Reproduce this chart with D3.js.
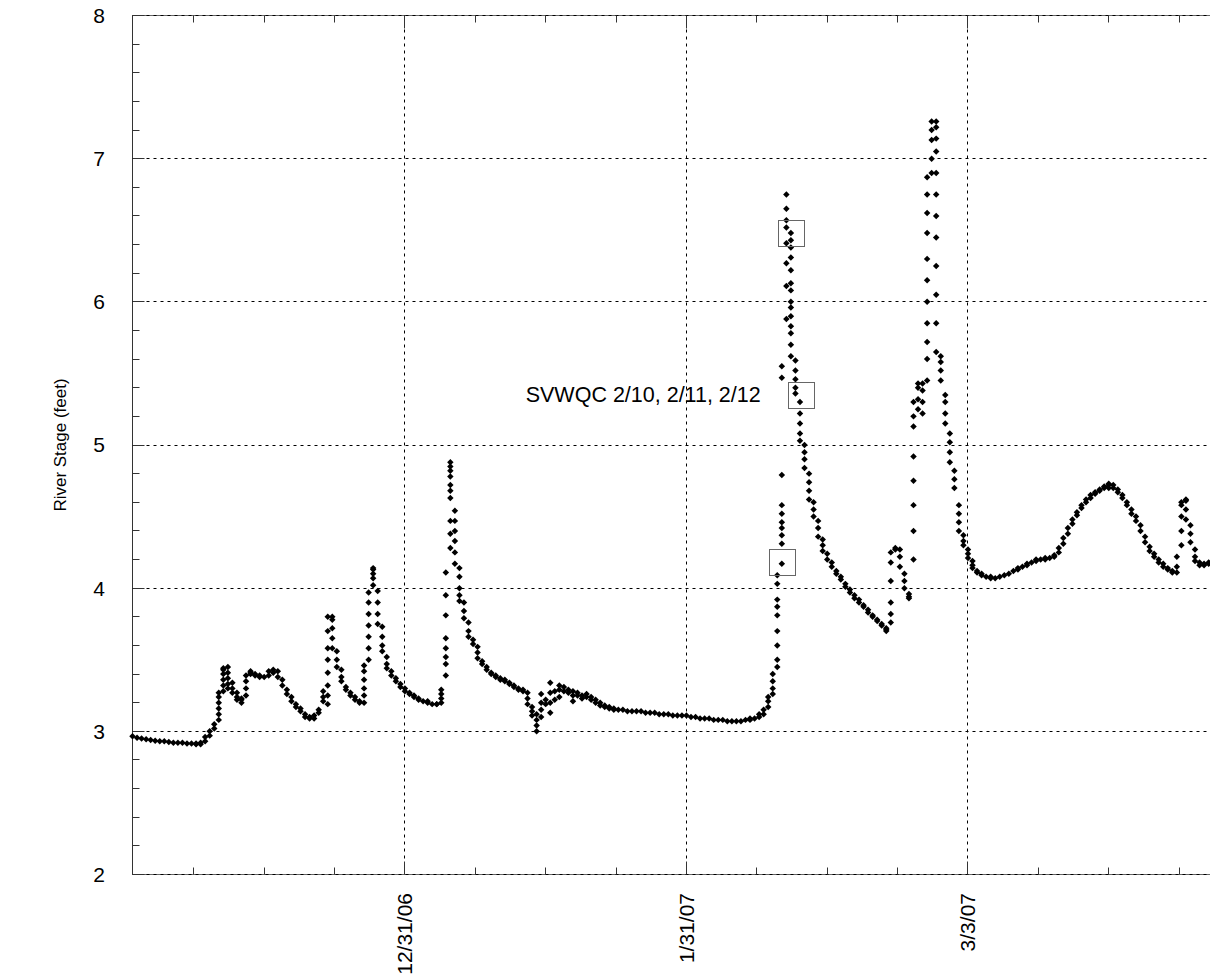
<!DOCTYPE html>
<html>
<head>
<meta charset="utf-8">
<script src="https://cdn.jsdelivr.net/npm/d3@7"></script>
<style>
  html, body { margin: 0; padding: 0; background: #fff; }
  svg { display: block; font-family: "Liberation Sans", Arial, sans-serif; }
</style>
</head>
<body>
<svg id="chart" width="1210" height="980"></svg>
<script>
// River stage readings, one slot every 12 hours starting 12/1/06 00:00.
// Each slot holds the readings that fall into it (stacked at one x).
var seriesStart = Date.UTC(2006, 11, 1);
var slotHours = 12;
var stageSlots = [
  [2.965],[2.955],[2.95],[2.945],[2.94],[2.935],[2.93],[2.93],[2.925],[2.92],
  [2.92],[2.92],[2.915],[2.915],[2.91,2.915],[2.91,2.92],[2.93,2.96],[2.97,3.0],[3.02,3.05],[3.08,3.12,3.16,3.2,3.24,3.27],
  [3.28,3.32,3.36,3.4,3.44,3.43],[3.45,3.41,3.37,3.33,3.3],[3.34,3.3,3.27],[3.27,3.24,3.22],[3.22,3.2,3.23],[3.25,3.3,3.35,3.39],[3.41,3.42,3.4],[3.4,3.39],[3.39,3.38],[3.38],
  [3.39,3.42],[3.43,3.41],[3.42,3.38],[3.36,3.32],[3.29,3.26],[3.24,3.21],[3.19,3.17],[3.16,3.14],[3.12,3.1],[3.1,3.09],
  [3.09,3.11],[3.13,3.15],[3.21,3.24,3.28],[3.19,3.25,3.32,3.41,3.5,3.58,3.7,3.8],[3.8,3.78,3.72,3.65,3.58],[3.56,3.5,3.45],[3.43,3.38,3.35],[3.31,3.29],[3.27,3.25],[3.24,3.22],
  [3.21,3.2],[3.2,3.25,3.3,3.36,3.42,3.46],[3.5,3.58,3.66,3.74,3.82,3.9,3.97],[4.02,4.07,4.1,4.13,4.14],[3.98,3.9,3.82,3.75],[3.73,3.66,3.6,3.56],[3.52,3.47,3.44],[3.42,3.39],[3.37,3.35],[3.33,3.31],
  [3.3,3.28],[3.27,3.26],[3.25,3.24],[3.23,3.22],[3.21],[3.21,3.2],[3.19],[3.19,3.19],[3.2,3.23,3.26,3.29],[3.39,3.47,3.52,3.58,3.65,3.81,3.95,4.11],
  [4.28,4.38,4.47,4.63,4.68,4.72,4.78,4.82,4.85,4.88],[4.54,4.47,4.4,4.33,4.25,4.17],[4.14,4.08,4.0,3.95,3.91],[3.9,3.84,3.79],[3.76,3.7,3.66],[3.64,3.61],[3.59,3.55,3.51],[3.49,3.47],[3.45,3.43],[3.41,3.4],
  [3.39,3.38],[3.37,3.36],[3.36,3.35],[3.34,3.33],[3.32,3.31],[3.3,3.29],[3.29,3.28],[3.27,3.23,3.19],[3.17,3.14,3.11],[3.12,3.08,3.04,3.0],
  [3.1,3.15,3.2,3.26],[3.19,3.22],[3.13,3.2,3.27,3.34],[3.22,3.28],[3.24,3.29,3.32],[3.28,3.31],[3.27,3.29],[3.21,3.25,3.28],[3.25,3.27],[3.23,3.25],
  [3.24,3.26],[3.22,3.24],[3.2,3.22],[3.18,3.2],[3.17,3.18],[3.16,3.17],[3.15,3.16],[3.15],[3.15],[3.14],
  [3.14],[3.14],[3.14],[3.13],[3.13],[3.13],[3.12],[3.12],[3.12],[3.11],
  [3.11],[3.11],[3.11],[3.1],[3.1],[3.09],[3.09],[3.09],[3.08],[3.08],
  [3.08],[3.07],[3.07],[3.07],[3.07],[3.08],[3.08,3.09],[3.09],[3.1,3.12],[3.12,3.15],
  [3.17,3.21,3.24],[3.26,3.3,3.35,3.4],[3.45,3.5,3.6,3.7,3.81,3.87,3.92,4.03,4.09],[4.17,4.31,4.37,4.42,4.46,4.52,4.58,4.79,5.47,5.55],[5.88,6.11,6.27,6.41,6.52,6.57,6.65,6.75],[6.48,6.43,6.38,6.31,6.22,6.13,6.08,6.0,5.96,5.9,5.83,5.78,5.7,5.62],[5.59,5.52,5.46,5.4,5.36],[5.3,5.22,5.15,5.08,5.03],[5.0,4.95,4.9,4.84],[4.8,4.74,4.68,4.62],
  [4.6,4.55,4.5],[4.47,4.42,4.36],[4.34,4.3,4.26],[4.24,4.2],[4.18,4.15],[4.12,4.1],[4.08,4.06],[4.03,4.01],[3.99,3.97],[3.95,3.93],
  [3.92,3.9],[3.88,3.87],[3.85,3.83],[3.81,3.8],[3.78,3.77],[3.75,3.74],[3.72,3.71,3.7],[3.76,3.82,3.9,4.05,4.18,4.25],[4.27,4.28],[4.27,4.22,4.15],
  [4.1,4.05,4.0],[3.96,3.94,3.93],[4.2,4.4,4.58,4.75,4.92,5.13,5.2,5.3],[5.25,5.32,5.4,5.43],[5.43,5.38,5.3,5.22],[5.45,5.6,5.72,5.85,6.0,6.15,6.3,6.48,6.62,6.75,6.87],[6.9,7.0,7.13,7.2,7.26],[7.26,7.22,7.14,7.05,6.9,6.75,6.6,6.45,6.25,6.05,5.85,5.65],[5.62,5.58,5.52,5.45],[5.35,5.3,5.22,5.15],
  [5.08,5.02,4.95,4.88],[4.82,4.76,4.7],[4.58,4.52,4.46,4.4],[4.37,4.33,4.3],[4.27,4.24,4.21],[4.19,4.16,4.14],[4.12,4.11],[4.1,4.09],[4.08],[4.08,4.07],
  [4.07],[4.08],[4.09],[4.1],[4.12],[4.13,4.14],[4.15],[4.17,4.16],[4.18],[4.19,4.2],
  [4.2],[4.2,4.21],[4.21],[4.22,4.23],[4.25,4.28],[4.31,4.35],[4.38,4.42],[4.45,4.48],[4.51,4.53],[4.56,4.58],
  [4.6,4.62],[4.63,4.65],[4.66,4.67],[4.68,4.69],[4.7,4.71],[4.72,4.73,4.7],[4.72,4.7],[4.69,4.67],[4.65,4.63],[4.6,4.58],
  [4.55,4.52],[4.5,4.47],[4.44,4.4],[4.36,4.32],[4.29,4.26],[4.24,4.22],[4.2,4.18],[4.17,4.15],[4.14,4.13],[4.12,4.11],
  [4.11,4.15,4.22],[4.3,4.4,4.5,4.58,4.6],[4.62,4.61,4.55,4.48],[4.44,4.38,4.32],[4.27,4.22,4.19],[4.18,4.16],[4.16,4.17],[4.17,4.18],[4.18]
];

// SVWQC sampling events (boxed readings)
var sampleTimes = [Date.UTC(2007, 1, 10, 12), Date.UTC(2007, 1, 11, 13), Date.UTC(2007, 1, 12, 14)];
var sampleStages = [4.18, 6.48, 5.35];
var sampleLabel = "SVWQC 2/10, 2/11, 2/12";

// axes
var xMajorTicks = [Date.UTC(2006, 11, 31), Date.UTC(2007, 0, 31), Date.UTC(2007, 2, 3)];
var yMajorTicks = [2, 3, 4, 5, 6, 7, 8];
var yTitle = "River Stage (feet)";

(function() {
  var svg = d3.select("#chart");

  var plotLeft = 132.5, plotTop = 15.5, plotBottom = 874.5, plotRight = 1249.5;

  var x = d3.scaleUtc()
    .domain([new Date(Date.UTC(2006, 11, 1)), new Date(Date.UTC(2007, 3, 3))])
    .range([plotLeft, plotRight]);

  var y = d3.scaleLinear()
    .domain([2, 8])
    .range([plotBottom, plotTop]);

  var fmt = d3.utcFormat("%-m/%-d/%y");

  // minor ticks: x every quarter of the 31-day major unit, y every 0.2
  var xMinor = [];
  for (var k = -4; k < 16; k++) {
    if (k % 4 === 0) continue;
    var t = new Date(xMajorTicks[0] + k * 7.75 * 864e5);
    if (t >= x.domain()[0] && t <= x.domain()[1]) xMinor.push(t);
  }
  var yMinor = d3.range(2.2, 8, 0.2).filter(function(v) {
    return Math.abs(v - Math.round(v)) > 0.01;
  });

  // frame
  var frame = svg.append("g").attr("stroke", "#666").attr("stroke-width", 1).attr("fill", "none");
  frame.append("line").attr("x1", plotLeft).attr("x2", plotRight).attr("y1", plotTop).attr("y2", plotTop);
  frame.append("line").attr("x1", plotLeft).attr("x2", plotRight).attr("y1", plotBottom).attr("y2", plotBottom);
  frame.append("line").attr("x1", plotLeft).attr("x2", plotLeft).attr("y1", plotTop).attr("y2", plotBottom).attr("stroke", "#333");

  // gridlines
  var grid = svg.append("g")
    .attr("stroke", "#000")
    .attr("stroke-width", 1)
    .attr("stroke-dasharray", "3,4");

  grid.selectAll("line.h").data(yMajorTicks).enter()
    .append("line")
    .attr("class", "h")
    .attr("x1", plotLeft).attr("x2", plotRight)
    .attr("y1", function(d) {return Math.round(y(d) - 0.5) + 0.5})
    .attr("y2", function(d) {return Math.round(y(d) - 0.5) + 0.5});

  grid.selectAll("line.v").data(xMajorTicks).enter()
    .append("line")
    .attr("class", "v")
    .attr("y1", plotTop).attr("y2", plotBottom)
    .attr("x1", function(d) {return Math.round(x(d) - 0.5) + 0.5})
    .attr("x2", function(d) {return Math.round(x(d) - 0.5) + 0.5});

  // tick marks (inward on top, bottom and left)
  var ticks = svg.append("g").attr("stroke", "#333").attr("stroke-width", 1);

  function xTick(d, len) {
    var px = Math.round(x(d) - 0.5) + 0.5;
    ticks.append("line").attr("x1", px).attr("x2", px).attr("y1", plotBottom).attr("y2", plotBottom - len);
    ticks.append("line").attr("x1", px).attr("x2", px).attr("y1", plotTop).attr("y2", plotTop + len);
  }
  xMinor.forEach(function(d) {xTick(d, 7)});
  xMajorTicks.forEach(function(d) {xTick(d, 13)});

  yMinor.forEach(function(d) {
    var py = Math.round(y(d) - 0.5) + 0.5;
    ticks.append("line").attr("x1", plotLeft).attr("x2", plotLeft + 7).attr("y1", py).attr("y2", py);
  });
  yMajorTicks.forEach(function(d) {
    var py = Math.round(y(d) - 0.5) + 0.5;
    ticks.append("line").attr("x1", plotLeft).attr("x2", plotLeft + 12).attr("y1", py).attr("y2", py);
  });

  // tick labels
  svg.append("g").selectAll("text").data(yMajorTicks).enter()
    .append("text")
    .attr("x", 105)
    .attr("y", function(d) {return y(d)})
    .attr("dy", "0.35em")
    .attr("text-anchor", "end")
    .attr("font-size", 21)
    .attr("fill", "#000")
    .text(function(d) {return d});

  svg.append("g").selectAll("text").data(xMajorTicks).enter()
    .append("text")
    .attr("transform", function(d) {return "translate(" + x(d) + ",893) rotate(-90)"})
    .attr("dy", "0.35em")
    .attr("text-anchor", "end")
    .attr("font-size", 21)
    .attr("fill", "#000")
    .text(function(d) {return fmt(new Date(d))});

  svg.append("text")
    .attr("transform", "translate(60," + ((plotTop + plotBottom) / 2) + ") rotate(-90)")
    .attr("dy", "0.35em")
    .attr("text-anchor", "middle")
    .attr("font-size", 17)
    .attr("fill", "#000")
    .text(yTitle);

  // readings
  var points = [];
  stageSlots.forEach(function(slot, i) {
    var t = new Date(seriesStart + i * slotHours * 36e5);
    slot.forEach(function(v) {points.push({t: t, v: v})});
  });

  var diamond = d3.symbol().type(d3.symbolSquare).size(21);

  svg.append("g").selectAll("path").data(points).enter()
    .append("path")
    .attr("d", diamond)
    .attr("fill", "#000")
    .attr("transform", function(d) {return "translate(" + x(d.t) + "," + y(d.v) + ") rotate(45)"});

  // sample boxes
  var boxSize = 26;
  svg.append("g").selectAll("rect").data(sampleTimes).enter()
    .append("rect")
    .attr("x", function(d) {return Math.round(x(new Date(d)) - boxSize / 2) + 0.5})
    .attr("y", function(d, i) {return Math.round(y(sampleStages[i]) - boxSize / 2) + 0.5})
    .attr("width", boxSize)
    .attr("height", boxSize)
    .attr("fill", "none")
    .attr("stroke", "#666")
    .attr("stroke-width", 1);

  svg.append("text")
    .attr("x", x(new Date(sampleTimes[2])) - boxSize / 2 - 27)
    .attr("y", y(sampleStages[2]))
    .attr("dy", "0.35em")
    .attr("text-anchor", "end")
    .attr("font-size", 21.5)
    .attr("fill", "#000")
    .text(sampleLabel);
})();
</script>
</body>
</html>
